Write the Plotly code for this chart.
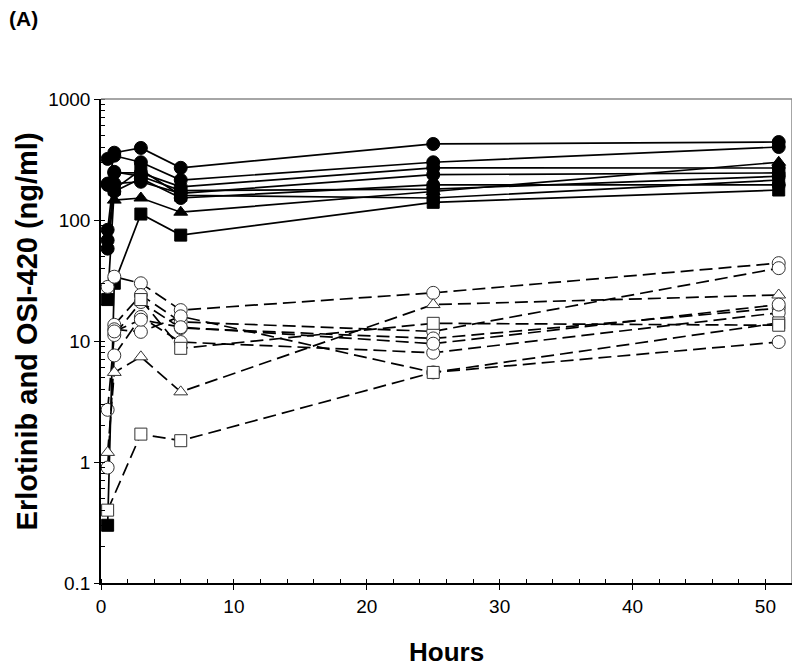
import plotly.graph_objects as go

hours = [0.5, 1, 3, 6, 25, 51]

# Erlotinib (solid lines, filled markers), one list per patient
erl_p1 = [320, 360, 394, 270, 425, 441]
erl_p2 = [200, 340, 300, 214, 300, 401]
erl_p3 = [83, 245, 245, 188, 270, 269]
erl_p4 = [68, 200, 207, 166, 237, 245]
erl_p5 = [58, 172, 220, 152, 195, 195]
erl_p6 = [None, 146, 152, 116, 172, 300]
erl_p7 = [0.3, 30, 112, 75, 140, 177]
erl_p8 = [22, 180, 260, 160, 152, 214]
erl_p9 = [195, 250, 230, 175, 180, 230]

# OSI-420 (dashed lines, open markers)
osi_p1 = [28, 34, 30, 18, 25, 44]
osi_p2 = [None, 13.6, 24, 14.4, 12, 40]
osi_p3 = [2.7, 11.2, 21, 12.8, 10.5, 18.7]
osi_p4 = [0.9, 7.6, 15.8, 9.8, 8, 17.1]
osi_p5 = [None, 12.5, 11.9, 16, 5.5, 9.8]
osi_p6 = [1.2, 5.5, 7.4, 3.8, 20, 24]
osi_p7 = [0.4, None, 1.7, 1.5, 5.5, 14.1]
osi_p8 = [None, None, 22, 8.7, 14, 13.5]
osi_p9 = [None, 12, 15, 13, 9.5, 20]

symbols = ["circle", "circle", "circle", "circle", "circle", "triangle-up", "square", "square", "circle"]
erl = [erl_p1, erl_p2, erl_p3, erl_p4, erl_p5, erl_p6, erl_p7, erl_p8, erl_p9]
osi = [osi_p1, osi_p2, osi_p3, osi_p4, osi_p5, osi_p6, osi_p7, osi_p8, osi_p9]

y_tickvals = [0.1, 1, 10, 100, 1000]
y_ticktext = ["0.1", "1", "10", "100", "1000"]
x_tickvals = [0, 10, 20, 30, 40, 50]

FONT = "Arial, Liberation Sans, sans-serif"

fig = go.Figure()

for vals, sym in zip(erl, symbols):
    fig.add_trace(go.Scatter(
        x=hours, y=vals, mode="lines+markers", connectgaps=True,
        line=dict(color="black", width=1.7),
        marker=dict(symbol=sym, size=13 if sym == "circle" else 12, color="black",
                    line=dict(color="black", width=1)),
        showlegend=False))

for vals, sym in zip(osi, symbols):
    fig.add_trace(go.Scatter(
        x=hours, y=vals, mode="lines+markers", connectgaps=True,
        line=dict(color="black", width=1.7, dash="13px,6px"),
        marker=dict(symbol=sym, size=13 if sym == "circle" else 12, color="white",
                    line=dict(color="#333333", width=1)),
        showlegend=False))

# gray frame on top/right
fig.add_shape(type="line", xref="paper", yref="paper", x0=0, x1=1, y0=1, y1=1,
              line=dict(color="#888888", width=1.5))
fig.add_shape(type="line", xref="paper", yref="paper", x0=1, x1=1, y0=0, y1=1,
              line=dict(color="#888888", width=1.5))

# panel label and axis titles
fig.add_annotation(text="<b>(A)</b>", xref="paper", yref="paper",
                   x=-0.112, y=1.167, xanchor="center", yanchor="middle", showarrow=False,
                   font=dict(family=FONT, size=21, color="black"))
fig.add_annotation(text="<b>Hours</b>", xref="paper", yref="paper",
                   x=0.5, y=-0.1426, xanchor="center", yanchor="middle", showarrow=False,
                   font=dict(family=FONT, size=26, color="black"))
fig.add_annotation(text="<b>Erlotinib and OSI-420 (ng/ml)</b>", xref="paper", yref="paper",
                   x=-0.107, y=0.52, xanchor="center", yanchor="middle", showarrow=False,
                   textangle=-90,
                   font=dict(family=FONT, size=29, color="black"))

# page body has an 8px margin, so the figure is sized to the visible area
fig.update_layout(
    width=792, height=659,
    margin=dict(l=93, r=8, t=91, b=84, autoexpand=False),
    paper_bgcolor="white", plot_bgcolor="white",
    font=dict(family=FONT, color="black"),
    xaxis=dict(range=[0, 52], tickvals=x_tickvals, ticks="outside", ticklen=5,
               tickwidth=1, tickcolor="black", automargin=False,
               showline=True, linecolor="black", linewidth=1.5, showgrid=False,
               zeroline=False, tickfont=dict(size=19),
               minor=dict(dtick=2, ticks="inside", ticklen=4, tickcolor="black")),
    yaxis=dict(type="log", range=[-1, 3], tickvals=y_tickvals, ticktext=y_ticktext,
               ticks="outside", ticklen=5, tickwidth=1, tickcolor="black", automargin=False,
               showline=True, linecolor="black", linewidth=1.5, showgrid=False,
               zeroline=False, tickfont=dict(size=19),
               minor=dict(ticks="inside", ticklen=4, tickcolor="black", dtick="D1")),
)

fig.write_html("out.html")
